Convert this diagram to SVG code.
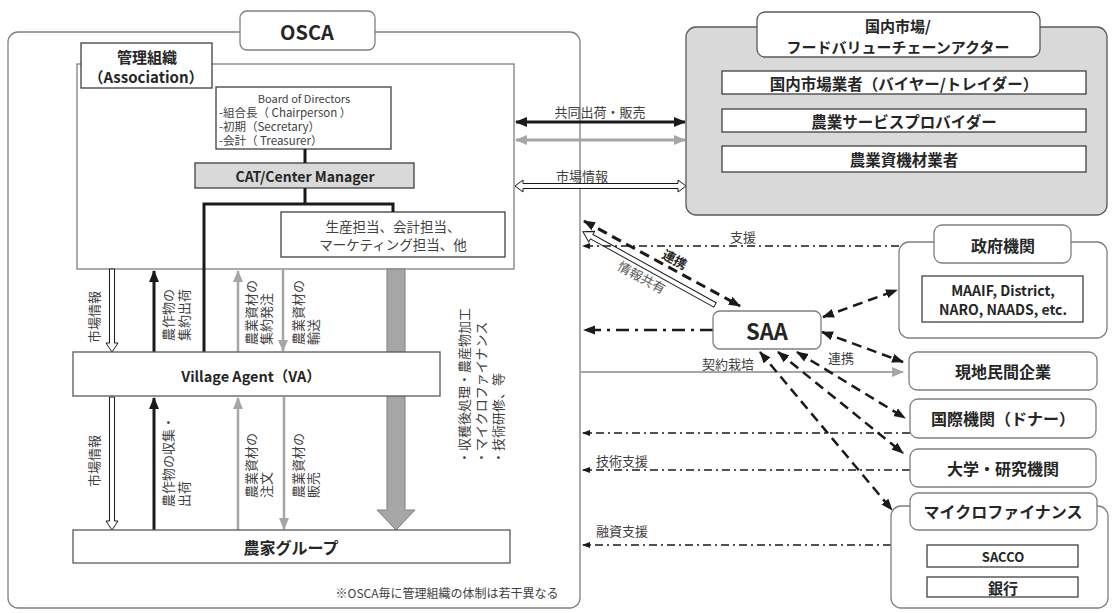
<svg xmlns="http://www.w3.org/2000/svg" width="1112" height="613" viewBox="0 0 1112 613">
<defs>
<style>
text{font-family:"Noto Sans CJK JP","Noto Sans",sans-serif;fill:#262626;dominant-baseline:central;text-anchor:middle}
.b{font-weight:bold}
.g{fill:#404040}
.st{text-anchor:start}
.lbl{font-size:13px;fill:#404040}
.lg{font-size:13px;fill:#595959}
.vl{font-size:13px;fill:#404040;text-anchor:start}
.frame{fill:#fff;stroke:#7f7f7f;stroke-width:1.3}
.box{fill:#fff;stroke:#404040;stroke-width:1.3}
.rbox{fill:#fff;stroke:#7f7f7f;stroke-width:1.3}
.blk{fill:none;stroke:#1a1a1a;stroke-width:3}
.gry{fill:none;stroke:#a6a6a6;stroke-width:2.5}
.dash{fill:none;stroke:#1a1a1a;stroke-width:2.5;stroke-dasharray:10 6}
.dd{fill:none;stroke:#1a1a1a;stroke-width:1.3;stroke-dasharray:8 4 2 4}
.hollow{fill:#fff;stroke:#1a1a1a;stroke-width:1}
</style>
<marker id="mB" viewBox="0 0 12 10" refX="11" refY="5" markerWidth="12" markerHeight="10" markerUnits="userSpaceOnUse" orient="auto-start-reverse"><path d="M0,0 L12,5 L0,10 Z" fill="#1a1a1a"/></marker>
<marker id="mG" viewBox="0 0 12 10" refX="11" refY="5" markerWidth="12" markerHeight="10" markerUnits="userSpaceOnUse" orient="auto-start-reverse"><path d="M0,0 L12,5 L0,10 Z" fill="#a6a6a6"/></marker>
<marker id="mD" viewBox="0 0 12 10" refX="11" refY="5" markerWidth="12" markerHeight="10" markerUnits="userSpaceOnUse" orient="auto-start-reverse"><path d="M0,0.5 L12,5 L0,9.5 Z" fill="#1a1a1a"/></marker>
<marker id="mS" viewBox="0 0 8 6" refX="7" refY="3" markerWidth="8" markerHeight="6" markerUnits="userSpaceOnUse" orient="auto-start-reverse"><path d="M0,0 L8,3 L0,6 Z" fill="#1a1a1a"/></marker>
</defs>
<rect width="1112" height="613" fill="#fff"/>

<g id="osca">
<rect class="frame" x="8" y="32" width="572" height="576" rx="10"/>
<rect class="rbox" x="240" y="11" width="135" height="39" rx="7"/>
<text class="b" x="307" y="31" font-size="20">OSCA</text>
<text class="g" x="447" y="592" font-size="12">※OSCA毎に管理組織の体制は若干異なる</text>
</g>

<g id="management">
<rect class="frame" x="77" y="64" width="437" height="205"/>
<rect class="box" x="81" y="43" width="131" height="45"/>
<text class="b" x="147" y="56" font-size="15">管理組織</text>
<text class="b" x="146" y="76.5" font-size="15">（Association）</text>
</g>

<g id="board">
<rect class="box" x="216" y="87" width="175" height="62"/>
<text class="g" x="304" y="98" font-size="11">Board of Directors</text>
<text class="g st" x="219" y="112" font-size="11.5">-組合長（ Chairperson ）</text>
<text class="g st" x="219" y="126" font-size="11.5">-初期（Secretary）</text>
<text class="g st" x="219" y="140" font-size="11.5">-会計（ Treasurer）</text>
</g>

<g id="cat">
<rect x="195" y="163" width="219" height="25" fill="#d9d9d9" stroke="#404040" stroke-width="1.3"/>
<text class="b" x="305" y="175.5" font-size="14">CAT/Center Manager</text>
</g>

<g id="staff">
<rect class="box" x="281" y="212" width="224" height="45"/>
<text class="g" x="393" y="226" font-size="13.5">生産担当、会計担当、</text>
<text class="g" x="393" y="244" font-size="13.5">マーケティング担当、他</text>
</g>

<g id="connectors">
<path class="blk" d="M305,149 L305,163 M305,188 L305,204"/>
<path class="blk" d="M204,352 L204,204 L393,204 L393,212"/>
<path d="M387,269 L405,269 L405,510 L415,510 L396,530 L377,510 L387,510 Z" fill="#a6a6a6" stroke="#7f7f7f" stroke-width="1"/>
<path class="hollow" d="M109.5,269 L114.5,269 L114.5,343 L118,343 L112,352 L106,343 L109.5,343 Z"/>
<path class="blk" d="M154,352 L154,271" marker-end="url(#mB)"/>
<path class="gry" d="M238,352 L238,271" marker-end="url(#mG)"/>
<path class="gry" d="M283,269 L283,351" marker-end="url(#mG)"/>
<path class="hollow" d="M109.5,397 L114.5,397 L114.5,521 L118,521 L112,530 L106,521 L109.5,521 Z"/>
<path class="blk" d="M154,530 L154,398" marker-end="url(#mB)"/>
<path class="gry" d="M238,530 L238,398" marker-end="url(#mG)"/>
<path class="gry" d="M284,397 L284,529" marker-end="url(#mG)"/>
<text class="vl" transform="translate(93,343) rotate(-90)">市場情報</text>
<text class="vl" transform="translate(167,341) rotate(-90)">農作物の</text>
<text class="vl" transform="translate(183,341) rotate(-90)">集約出荷</text>
<text class="vl" transform="translate(250,345) rotate(-90)">農業資材の</text>
<text class="vl" transform="translate(265,345) rotate(-90)">集約発注</text>
<text class="vl" transform="translate(297,345) rotate(-90)">農業資材の</text>
<text class="vl" transform="translate(312,345) rotate(-90)">輸送</text>
<text class="vl" transform="translate(93,487) rotate(-90)">市場情報</text>
<text class="vl" transform="translate(167,507) rotate(-90)">農作物の収集・</text>
<text class="vl" transform="translate(183,507) rotate(-90)">出荷</text>
<text class="vl" transform="translate(250,498) rotate(-90)">農業資材の</text>
<text class="vl" transform="translate(265,498) rotate(-90)">注文</text>
<text class="vl" transform="translate(297,498) rotate(-90)">農業資材の</text>
<text class="vl" transform="translate(312,498) rotate(-90)">販売</text>
<text class="vl" transform="translate(463,464) rotate(-90)">・収穫後処理・農産物加工</text>
<text class="vl" transform="translate(480,464) rotate(-90)">・マイクロファイナンス</text>
<text class="vl" transform="translate(497,464) rotate(-90)">・技術研修、等</text>
<path class="blk" d="M516,122 L685,122" marker-start="url(#mB)" marker-end="url(#mB)"/>
<text class="lbl" x="600" y="111">共同出荷・販売</text>
<path class="gry" style="stroke-width:3" d="M516,140 L685,140" marker-start="url(#mG)" marker-end="url(#mG)"/>
<path class="hollow" d="M515,186 L523,180 L523,183.5 L678,183.5 L678,180 L686,186 L678,192 L678,188.5 L523,188.5 L523,192 Z"/>
<text class="lbl" x="582" y="175">市場情報</text>
<path class="dash" style="stroke-width:3" d="M584,221 L740,306" marker-start="url(#mD)" marker-end="url(#mD)"/>
<text class="b" x="675" y="259" font-size="13" transform="rotate(28.6 675 259)">連携</text>
<path class="hollow" transform="translate(715,305) rotate(-151)" d="M0,-2.5 L141,-2.5 L141,-6 L151,0 L141,6 L141,2.5 L0,2.5 Z"/>
<text class="lg" x="642" y="277" transform="rotate(29 642 277)">情報共有</text>
<path class="dd" style="stroke-width:2.5;stroke-dasharray:13 6 3 6" d="M713,330 L584,330" marker-end="url(#mD)"/>
<path class="dd" d="M899,246 L583,246" marker-end="url(#mS)"/>
<text class="lbl" x="743" y="236">支援</text>
<path class="dd" d="M910,433 L583,433" marker-end="url(#mS)"/>
<path class="dd" d="M910,470 L583,470" marker-end="url(#mS)"/>
<text class="lbl" x="622" y="460">技術支援</text>
<path class="dd" d="M891,545 L583,545" marker-end="url(#mS)"/>
<text class="lbl" x="622" y="530">融資支援</text>
<path class="gry" style="stroke-width:2" d="M581,372 L903,372" marker-end="url(#mG)"/>
<text class="lbl" x="728" y="363">契約栽培</text>
<path class="dash" d="M823,317 L897,290" marker-start="url(#mD)" marker-end="url(#mD)"/>
<path class="dash" d="M822,332 L903,362" marker-start="url(#mD)" marker-end="url(#mD)"/>
<text class="lbl" x="841" y="357">連携</text>
<path class="dash" d="M797,352 L905,418" marker-start="url(#mD)" marker-end="url(#mD)"/>
<path class="dash" d="M778,352 L903,453" marker-start="url(#mD)" marker-end="url(#mD)"/>
<path class="dash" d="M760,352 L892,510" marker-start="url(#mD)" marker-end="url(#mD)"/>
</g>

<g id="va">
<rect class="box" x="73" y="352" width="367" height="44" style="stroke:#595959"/>
<text class="b" x="251" y="375" font-size="14.5">Village Agent（VA）</text>
</g>

<g id="farmers">
<rect class="box" x="73" y="530" width="437" height="33" style="stroke:#595959"/>
<text class="b" x="291" y="547" font-size="16">農家グループ</text>
</g>

<g id="domestic">
<rect x="686" y="27" width="421" height="188" rx="10" fill="#d9d9d9" stroke="#595959" stroke-width="1.3"/>
<rect class="rbox" x="757" y="12" width="283" height="45" rx="8" style="stroke:#595959"/>
<text class="b" x="898" y="25.5" font-size="15">国内市場/</text>
<text class="b" x="898" y="46" font-size="15">フードバリューチェーンアクター</text>
<rect class="box" x="722" y="71" width="364" height="23"/>
<text class="b" x="904" y="82.5" font-size="15.5">国内市場業者（バイヤー/トレイダー）</text>
<rect class="box" x="722" y="109" width="364" height="23"/>
<text class="b" x="904" y="120.5" font-size="15.5">農業サービスプロバイダー</text>
<rect class="box" x="722" y="146" width="364" height="26"/>
<text class="b" x="904" y="159" font-size="15.5">農業資機材業者</text>
</g>

<g id="saa">
<rect class="rbox" x="713" y="311" width="108" height="38" rx="7"/>
<text class="b" x="767" y="330" font-size="22">SAA</text>
</g>

<g id="government">
<rect class="rbox" x="899" y="242" width="208" height="96" rx="10"/>
<rect class="rbox" x="934" y="225" width="137" height="38" rx="8"/>
<text class="b" x="1003" y="245" font-size="16">政府機関</text>
<rect class="box" x="922" y="276" width="161" height="46"/>
<text class="b" x="1003" y="290" font-size="14">MAAIF, District,</text>
<text class="b" x="1003" y="309" font-size="14">NARO, NAADS, etc.</text>
</g>

<g id="private">
<rect class="rbox" x="909" y="352" width="188" height="38" rx="8"/>
<text class="b" x="1003" y="371" font-size="16">現地民間企業</text>
</g>

<g id="donor">
<rect class="rbox" x="910" y="399" width="186" height="39" rx="8"/>
<text class="b" x="1003" y="418" font-size="16">国際機関（ドナー）</text>
</g>

<g id="university">
<rect class="rbox" x="910" y="449" width="186" height="38" rx="8"/>
<text class="b" x="1003" y="468" font-size="16">大学・研究機関</text>
</g>

<g id="microfinance">
<rect class="rbox" x="891" y="506" width="217" height="102" rx="10"/>
<rect class="rbox" x="910" y="493" width="187" height="37" rx="8"/>
<text class="b" x="1003" y="511" font-size="16">マイクロファイナンス</text>
<rect class="box" x="927" y="545" width="151" height="22"/>
<text class="b" x="1003" y="556" font-size="13">SACCO</text>
<rect class="box" x="927" y="577" width="151" height="20"/>
<text class="b" x="1003" y="587" font-size="15">銀行</text>
</g>
</svg>
